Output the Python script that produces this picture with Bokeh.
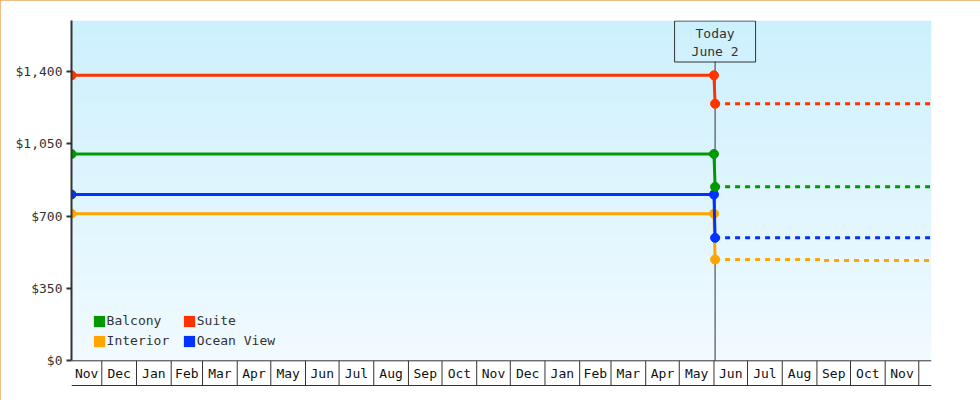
import numpy as np
import pandas as pd
from bokeh.plotting import figure
from bokeh.models import (Range1d, LinearAxis, FixedTicker, NumeralTickFormatter,
                          Legend, LegendItem)
from bokeh.core.properties import value
from bokeh.embed import file_html
from bokeh.resources import INLINE

# ---------------- data ----------------
SERIES = ["Interior", "Ocean View", "Balcony", "Suite"]
COLORS = ["#ffa500", "#0033ff", "#009900", "#ff3300"]
OLD_PRICES = [712, 805, 1001, 1382]
NEW_PRICES = [490, 595, 842, 1244]
INTERIOR_LATER_DATE = "2023-09-05"
INTERIOR_LATER_PRICE = 485

HISTORY_START = "2021-11-03 22:00"
LAST_OLD_DATE = "2023-06-01"
TODAY = "2023-06-02"
FORECAST_END = "2023-12-12 09:00"
TODAY_LABEL = ["Today", "June 2"]

Y_TICKS = [0, 350, 700, 1050, 1400]
MONTH_LABELS = ["Jan", "Feb", "Mar", "Apr", "May", "Jun",
                "Jul", "Aug", "Sep", "Oct", "Nov", "Dec"]
LEGEND_COL1 = ["Balcony", "Interior"]
LEGEND_COL2 = ["Suite", "Ocean View"]

# ---------------- layout constants ----------------
FONT = "DejaVu Sans Mono"
INK = "#333333"
W, H = 980, 400
FRAME_L, FRAME_R, FRAME_T, FRAME_B = 71, 49, 20, 14
FRAME_W = W - FRAME_L - FRAME_R
FRAME_H = H - FRAME_T - FRAME_B
Y_MAX = 1647.0
Y_MIN = -124.4
YPP = (Y_MAX - Y_MIN) / FRAME_H


def ms(s):
    return pd.Timestamp(s).value / 1e6


xs = ms(HISTORY_START)
xe = ms(FORECAST_END)
MS_PER_PX = (xe - xs) / FRAME_W

p = figure(width=W, height=H, output_backend="svg", toolbar_location=None,
           x_range=Range1d(xs, xe), y_range=Range1d(Y_MIN, Y_MAX),
           x_axis_location=None, y_axis_location=None,
           min_border_left=FRAME_L, min_border_right=FRAME_R,
           min_border_top=FRAME_T, min_border_bottom=FRAME_B,
           outline_line_color=None, background_fill_color="white",
           border_fill_color="white")
p.grid.grid_line_color = None
p.styles = {"outline": "1px solid #e8a860", "outline-offset": "-1px"}

# gradient background (style only)
n_bands = 68
edges = np.linspace(0, Y_MAX, n_bands + 1)
top_c = np.array([204, 240, 253])
bot_c = np.array([241, 250, 255])
cols = []
for i in range(n_bands):
    t = (edges[i] + edges[i + 1]) / 2 / Y_MAX
    c = bot_c + (top_c - bot_c) * t
    cols.append("#%02x%02x%02x" % tuple(int(round(v)) for v in c))
p.quad(left=xs, right=xe, bottom=edges[:-1],
       top=np.minimum(edges[1:] + (edges[1] - edges[0]) * 0.5, Y_MAX),
       fill_color=cols, line_color=None)

# month band
bottom_line_y = Y_MIN + 1.0 * YPP
month_starts = [ms(d) for d in pd.date_range("2021-12-01", FORECAST_END, freq="MS")]
p.segment(x0=month_starts, y0=0, x1=month_starts, y1=bottom_line_y,
          line_color=INK, line_width=1)
p.segment(x0=[xs, xs], y0=[0, bottom_line_y], x1=[xe, xe], y1=[0, bottom_line_y],
          line_color=INK, line_width=1)
bounds = [xs] + month_starts + [xe]
lx, lt = [], []
for a, b in zip(bounds[:-1], bounds[1:]):
    if (b - a) / MS_PER_PX >= 20:
        lx.append((a + b) / 2)
        lt.append(MONTH_LABELS[pd.Timestamp(a, unit="ms").month - 1])
p.text(x=lx, y=bottom_line_y / 2, text=lt, text_font=value(FONT),
       text_font_size="13px", text_align="center", text_baseline="middle",
       text_color="#111111")

# today marker
t_ms = ms(TODAY)
box_h = 41
p.segment(x0=[t_ms], y0=[0], x1=[t_ms], y1=[Y_MAX - box_h * YPP],
          line_color=INK, line_width=1)
p.rect(x=[t_ms], y=[Y_MAX - (box_h / 2 + 0.5) * YPP], width=81, height=box_h,
       width_units="screen", height_units="screen",
       fill_color=None, line_color=INK, line_width=1)
p.text(x=[t_ms, t_ms], y=[Y_MAX - 12.7 * YPP, Y_MAX - 30.7 * YPP], text=TODAY_LABEL,
       text_font=value(FONT), text_font_size="13px", text_align="center",
       text_baseline="middle", text_color=INK)

# series
swatches = {}
for name, col, old, new in zip(SERIES, COLORS, OLD_PRICES, NEW_PRICES):
    hx = [xs, ms(LAST_OLD_DATE), t_ms]
    hy = [old, old, new]
    p.line(x=hx, y=hy, line_color=col, line_width=3)
    if name == "Interior":
        fx = [t_ms, ms(INTERIOR_LATER_DATE), xe]
        fy = [new, INTERIOR_LATER_PRICE, INTERIOR_LATER_PRICE]
    else:
        fx = [t_ms, xe]
        fy = [new, new]
    p.step(x=fx, y=fy, mode="after", line_color=col, line_width=3, line_dash="5 5")
    p.scatter(x=hx, y=hy, size=9, fill_color=col, line_color=col)
    # zero-area swatch renderer, used only for the legend's square
    swatches[name] = p.quad(left=[xs], right=[xs], top=[old], bottom=[old],
                            fill_color=col, line_color=None)

# y axis
yaxis = LinearAxis(ticker=FixedTicker(ticks=Y_TICKS, minor_ticks=[]),
                   formatter=NumeralTickFormatter(format="$0,0"),
                   bounds=(0, Y_MAX),
                   axis_line_color=INK, axis_line_width=2,
                   major_tick_line_color=INK, major_tick_line_width=2,
                   major_tick_out=5, major_tick_in=0,
                   minor_tick_line_color=None,
                   major_label_standoff=4,
                   major_label_text_font=FONT, major_label_text_font_size="13px",
                   major_label_text_color=INK)
p.add_layout(yaxis, "left")


def make_legend(names, x):
    return Legend(items=[LegendItem(label=n, renderers=[swatches[n]]) for n in names],
                  location=(x, 38), orientation="vertical",
                  glyph_width=14, glyph_height=14, label_standoff=1,
                  label_height=14, spacing=5, padding=0, margin=0,
                  border_line_color=None, background_fill_alpha=0,
                  label_text_font=FONT, label_text_font_size="13px",
                  label_text_color=INK)


p.add_layout(make_legend(LEGEND_COL1, 91.6 - FRAME_L))
p.add_layout(make_legend(LEGEND_COL2, 181.8 - FRAME_L))

open("out.html", "w").write(file_html(p, INLINE))
